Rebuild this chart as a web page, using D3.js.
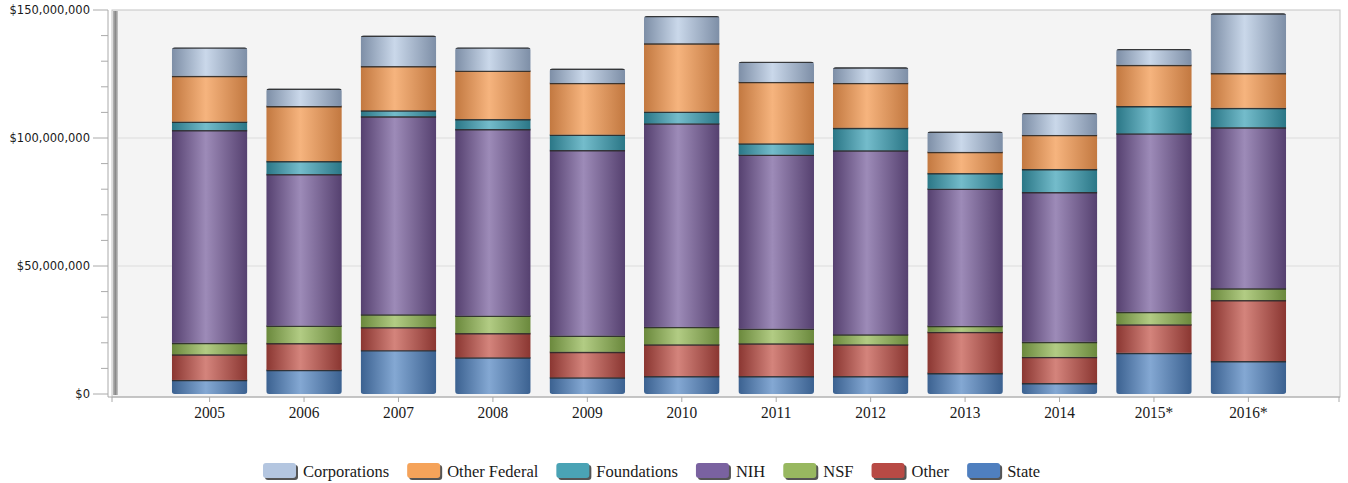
<!DOCTYPE html>
<html>
<head>
<meta charset="utf-8">
<script src="https://cdn.jsdelivr.net/npm/d3@7"></script>
<style>
  body { margin: 0; background: #fff; }
  svg { display: block; }
</style>
</head>
<body>
<svg id="chart" width="1348" height="483"></svg>
<script>
// data (millions of dollars)
var years = ["2005", "2006", "2007", "2008", "2009", "2010", "2011", "2012", "2013", "2014", "2015*", "2016*"];
var state        = [5.5, 9.4, 17.1, 14.3, 6.5, 7.0, 7.0, 7.0, 8.2, 4.3, 16.1, 12.9];
var other        = [10.0, 10.5, 9.0, 9.5, 10.0, 12.4, 12.8, 12.4, 16.1, 10.2, 11.1, 23.8];
var nsf          = [4.5, 6.8, 5.0, 6.8, 6.3, 6.8, 5.7, 3.9, 2.3, 5.9, 4.9, 4.6];
var nih          = [83.1, 59.2, 77.4, 72.9, 72.5, 79.5, 68.0, 71.9, 53.6, 58.5, 69.7, 62.9];
var foundations  = [3.3, 5.1, 2.3, 3.9, 6.0, 4.6, 4.4, 8.8, 6.1, 9.0, 10.7, 7.6];
var otherFederal = [17.9, 21.5, 17.3, 18.9, 20.2, 26.7, 24.0, 17.5, 8.3, 13.3, 16.1, 13.6];
var corporations = [11.1, 6.8, 11.9, 9.1, 5.6, 10.7, 7.9, 6.1, 7.9, 8.6, 6.2, 23.3];

var yTicks = [0, 50, 100, 150];
var legendOrder = ["Corporations", "Other Federal", "Foundations", "NIH", "NSF", "Other", "State"];

// stacking order, bottom to top
var series = [
  { name: "State", values: state, dark: "#3b6190", light: "#84a8d3", flat: "#4f7fbf" },
  { name: "Other", values: other, dark: "#8a3631", light: "#d4847c", flat: "#b84a45" },
  { name: "NSF", values: nsf, dark: "#6a883c", light: "#b2cc84", flat: "#98b860" },
  { name: "NIH", values: nih, dark: "#55406f", light: "#9d8bb8", flat: "#7a62a0" },
  { name: "Foundations", values: foundations, dark: "#2a7686", light: "#74bccb", flat: "#4aa3b5" },
  { name: "Other Federal", values: otherFederal, dark: "#c27840", light: "#f6b47e", flat: "#f5a35a" },
  { name: "Corporations", values: corporations, dark: "#7d8ea6", light: "#cad8ea", flat: "#b4c6e0" }
];

var svg = d3.select("#chart");
var plotLeft = 112, plotRight = 1340, plotTop = 10, plotBottom = 394;

var x = d3.scaleBand().domain(years).range([118, plotRight]).paddingInner(0.2).paddingOuter(0.57);
var y = d3.scaleLinear().domain([0, 150]).range([plotBottom, plotTop]);

// gradients
var defs = svg.append("defs");
series.forEach(function(s, i) {
  var g = defs.append("linearGradient").attr("id", "grad" + i)
      .attr("x1", 0).attr("x2", 1).attr("y1", 0).attr("y2", 0);
  g.append("stop").attr("offset", "0%").attr("stop-color", s.dark);
  g.append("stop").attr("offset", "45%").attr("stop-color", s.light);
  g.append("stop").attr("offset", "100%").attr("stop-color", s.dark);
});
var wall = defs.append("linearGradient").attr("id", "wall").attr("x1", 0).attr("x2", 1);
wall.append("stop").attr("offset", "0%").attr("stop-color", "#b5b5b5");
wall.append("stop").attr("offset", "50%").attr("stop-color", "#8a8a8a");
wall.append("stop").attr("offset", "100%").attr("stop-color", "#c8c8c8");

// plot background
svg.append("rect")
  .attr("x", plotLeft).attr("y", plotTop).attr("width", plotRight - plotLeft).attr("height", plotBottom + 3 - plotTop)
  .attr("fill", "#f4f4f4").attr("stroke", "#c4c4c4");

// grid lines
svg.append("g").selectAll("line")
  .data(yTicks.filter(function(d) { return d > 0 && d < 150; }))
  .enter().append("line")
  .attr("x1", plotLeft).attr("x2", plotRight)
  .attr("y1", function(d) { return y(d); }).attr("y2", function(d) { return y(d); })
  .attr("stroke", "#dcdcdc");

// left 3d wall edge
svg.append("rect")
  .attr("x", 113).attr("y", plotTop + 1).attr("width", 5).attr("height", plotBottom - plotTop)
  .attr("fill", "url(#wall)");

// stacked bars
var stack = d3.stack()
  .keys(series.map(function(s, i) { return i; }))
  .value(function(d, k) { return series[k].values[d]; });
var stacked = stack(d3.range(years.length));

var bw = x.bandwidth();
years.forEach(function(yr, j) {
  var total = stacked[stacked.length - 1][j][1];
  defs.append("clipPath").attr("id", "clip" + j)
    .append("rect")
    .attr("x", x(yr)).attr("y", y(total)).attr("width", bw).attr("height", y(0) - y(total))
    .attr("rx", 3).attr("ry", 3);
});

var layers = svg.append("g").selectAll("g")
  .data(stacked)
  .enter().append("g")
  .attr("fill", function(d, i) { return "url(#grad" + i + ")"; });

layers.selectAll("rect")
  .data(function(d) { return d; })
  .enter().append("rect")
  .attr("x", function(d) { return x(years[d.data]); })
  .attr("y", function(d) { return y(d[1]); })
  .attr("width", bw)
  .attr("height", function(d) { return y(d[0]) - y(d[1]); })
  .attr("clip-path", function(d) { return "url(#clip" + d.data + ")"; });

// dark separators on top of every segment
layers.selectAll("line")
  .data(function(d) { return d; })
  .enter().append("line")
  .attr("x1", function(d) { return x(years[d.data]); })
  .attr("x2", function(d) { return x(years[d.data]) + bw; })
  .attr("y1", function(d) { return y(d[1]) + 0.5; })
  .attr("y2", function(d) { return y(d[1]) + 0.5; })
  .attr("stroke", "#2a2a2a").attr("stroke-width", 1.8).attr("stroke-opacity", 0.9)
  .attr("clip-path", function(d) { return "url(#clip" + d.data + ")"; });

// y axis
var yAxis = svg.append("g");
yAxis.append("line").attr("x1", 108).attr("x2", 108).attr("y1", plotTop).attr("y2", plotBottom + 3)
  .attr("stroke", "#aaa");
yAxis.selectAll(".minor")
  .data(d3.range(0, 151, 10))
  .enter().append("line")
  .attr("x1", function(d) { return d % 50 === 0 ? 93 : 101; })
  .attr("x2", 108)
  .attr("y1", function(d) { return y(d); }).attr("y2", function(d) { return y(d); })
  .attr("stroke", "#aaa");
yAxis.selectAll("text")
  .data(yTicks)
  .enter().append("text")
  .attr("x", 90).attr("y", function(d) { return y(d) + 4; })
  .attr("text-anchor", "end")
  .attr("font-family", "DejaVu Sans, Verdana, sans-serif").attr("font-size", 11.5)
  .attr("fill", "#1a1a1a")
  .text(function(d) { return d3.format("$,")(d * 1e6); });

// x axis
var xAxis = svg.append("g");
xAxis.append("line").attr("x1", 108).attr("x2", plotRight).attr("y1", plotBottom + 3).attr("y2", plotBottom + 3)
  .attr("stroke", "#aaa");
xAxis.selectAll(".tick")
  .data([plotLeft].concat(years.map(function(d) { return x(d) + bw / 2; })).concat([plotRight - 1]))
  .enter().append("line")
  .attr("x1", function(d) { return d; }).attr("x2", function(d) { return d; })
  .attr("y1", plotBottom + 3).attr("y2", plotBottom + 8)
  .attr("stroke", "#aaa");
xAxis.selectAll("text")
  .data(years)
  .enter().append("text")
  .attr("transform", function(d) { return "translate(" + (x(d) + bw / 2) + ",418) scale(0.88,1)"; })
  .attr("text-anchor", "middle")
  .attr("font-family", "Liberation Serif, Times New Roman, serif").attr("font-size", 17.5)
  .attr("fill", "#1a1a1a")
  .text(function(d) { return d; });

// legend
var legend = svg.append("g");
var items = legendOrder.map(function(n) { return series.find(function(s) { return s.name === n; }); });
var lx = 263;
items.forEach(function(s) {
  var g = legend.append("g").attr("transform", "translate(" + lx + ",0)");
  g.append("rect").attr("x", 2).attr("y", 465).attr("width", 33).attr("height", 15).attr("rx", 3)
    .attr("fill", "#555");
  g.append("rect").attr("x", 0).attr("y", 463).attr("width", 33).attr("height", 15).attr("rx", 3)
    .attr("fill", s.flat);
  var t = g.append("text").attr("transform", "translate(40,477)")
    .attr("font-family", "Liberation Serif, Times New Roman, serif").attr("font-size", 16.5)
    .attr("fill", "#1a1a1a")
    .text(s.name);
  lx += 40 + t.node().getComputedTextLength() + 18;
});
</script>
</body>
</html>
